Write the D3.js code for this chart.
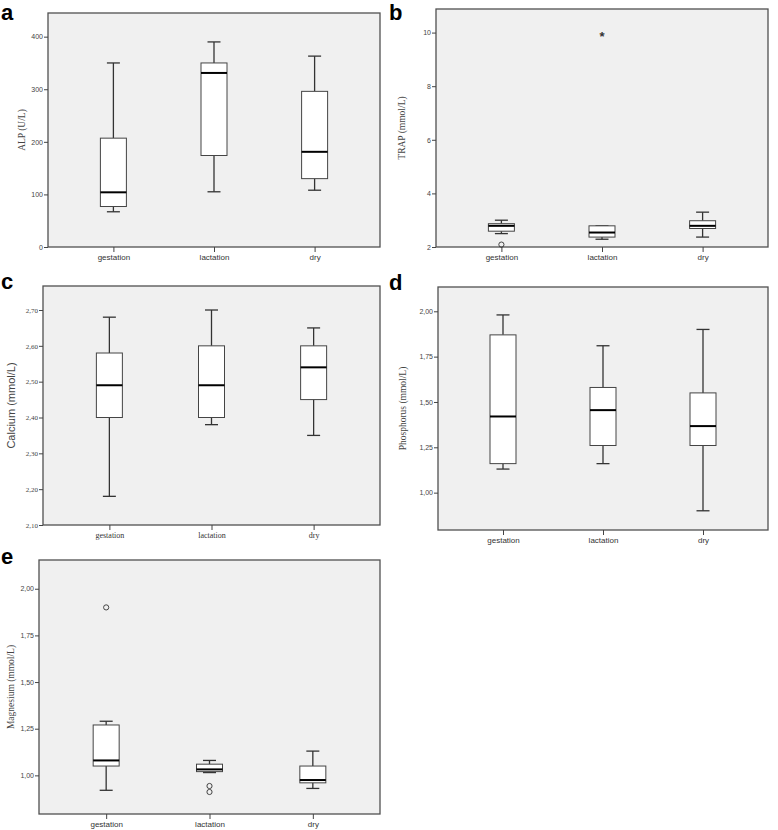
<!DOCTYPE html>
<html>
<head>
<meta charset="utf-8">
<script src="https://cdn.jsdelivr.net/npm/d3@7"></script>
<style>
  body { margin: 0; background: white; }
  svg { display: block; }
</style>
</head>
<body>
<svg id="chart" width="778" height="830"></svg>
<script>
// groups on every x axis
let groups = ["gestation", "lactation", "dry"]

// box stats per group: [min, q1, median, q3, max]
let alpStats = [[67, 77, 104, 207, 350], [105, 174, 331, 350, 390], [108, 130, 181, 296, 363]]
let trapStats = [[2.50, 2.59, 2.79, 2.87, 3.00], [2.29, 2.37, 2.54, 2.79, 2.79], [2.37, 2.69, 2.79, 2.98, 3.30]]
let calciumStats = [[2.18, 2.40, 2.49, 2.58, 2.68], [2.38, 2.40, 2.49, 2.60, 2.70], [2.35, 2.45, 2.54, 2.60, 2.65]]
let phosphorusStats = [[1.13, 1.16, 1.42, 1.87, 1.98], [1.16, 1.26, 1.455, 1.58, 1.81], [0.90, 1.26, 1.367, 1.55, 1.90]]
let magnesiumStats = [[0.92, 1.05, 1.08, 1.27, 1.29], [1.015, 1.02, 1.032, 1.06, 1.08], [0.93, 0.96, 0.975, 1.05, 1.13]]

// outliers: [group, value]
let trapCircles = [["gestation", 2.09]]
let trapStars = [["lactation", 10.0]]
let magnesiumCircles = [["gestation", 1.90], ["lactation", 0.943], ["lactation", 0.911]]

// y ticks
let alpTicks = [0, 100, 200, 300, 400]
let trapTicks = [2, 4, 6, 8, 10]
let calciumTicks = [2.1, 2.2, 2.3, 2.4, 2.5, 2.6, 2.7]
let mgpTicks = [1.0, 1.25, 1.5, 1.75, 2.0]

let svg = d3.select("#chart")

let comma = d => d3.format(".2f")(d).replace(".", ",")

let panels = [
  {letter: "a", lx: 1, ly: 20, x0: 48, x1: 380, y0: 13, y1: 247, domain: [0, 445], ticks: alpTicks, fmt: d3.format("d"),
   stats: alpStats, circles: [], stars: [], label: "ALP (U/L)", labelX: 23, serif: true},
  {letter: "b", lx: 389, ly: 20, x0: 436, x1: 768, y0: 9, y1: 247, domain: [2, 10.88], ticks: trapTicks, fmt: d3.format("d"),
   stats: trapStats, circles: trapCircles, stars: trapStars, label: "TRAP (mmol/L)", labelX: 403, serif: true},
  {letter: "c", lx: 1, ly: 289, x0: 43, x1: 380, y0: 286, y1: 525, domain: [2.10, 2.767], ticks: calciumTicks, fmt: comma,
   stats: calciumStats, circles: [], stars: [], label: "Calcium (mmol/L)", labelX: 12, serif: false},
  {letter: "d", lx: 389, ly: 290, x0: 438, x1: 768, y0: 287, y1: 530, domain: [0.794, 2.134], ticks: mgpTicks, fmt: comma,
   stats: phosphorusStats, circles: [], stars: [], label: "Phosphorus (mmol/L)", labelX: 404, serif: true},
  {letter: "e", lx: 1, ly: 564, x0: 39, x1: 380, y0: 560, y1: 814, domain: [0.793, 2.154], ticks: mgpTicks, fmt: comma,
   stats: magnesiumStats, circles: magnesiumCircles, stars: [], label: "Magnesium (mmol/L)", labelX: 12, serif: true}
]

let boxW = 26
let capW = 13

panels.forEach(function(p){
  let g = svg.append("g")

  let x = d3.scalePoint().domain(groups).range([p.x0, p.x1]).padding(0.65)
  let y = d3.scaleLinear().domain(p.domain).range([p.y1, p.y0])

  // panel letter
  svg.append("text")
    .attr("x", p.lx)
    .attr("y", p.ly)
    .attr("font-family", "Liberation Sans, Arial, sans-serif")
    .attr("font-weight", "bold")
    .attr("font-size", "22px")
    .text(p.letter)

  // plot background + frame
  g.append("rect")
    .attr("x", p.x0)
    .attr("y", p.y0)
    .attr("width", p.x1 - p.x0)
    .attr("height", p.y1 - p.y0)
    .attr("fill", "#f0f0f0")
    .attr("stroke", "#505050")
    .attr("stroke-width", 1.3)

  // y axis
  let yAxis = g.append("g")
    .attr("transform", "translate(" + p.x0 + ",0)")
    .call(d3.axisLeft(y).tickValues(p.ticks).tickFormat(p.fmt).tickSize(4).tickPadding(1))
  yAxis.select(".domain").remove()
  yAxis.selectAll("line").attr("stroke", "#444")
  yAxis.selectAll("text")
    .attr("font-family", p.serif ? "Liberation Sans, Arial, sans-serif" : "Liberation Serif, Times New Roman, serif")
    .attr("font-size", "7px")
    .attr("fill", "#444")

  // x axis
  let xAxis = g.append("g")
    .attr("transform", "translate(0," + p.y1 + ")")
    .call(d3.axisBottom(x).tickSize(5).tickPadding(2))
  xAxis.select(".domain").remove()
  xAxis.selectAll("line").attr("stroke", "#444")
  xAxis.selectAll("text")
    .attr("font-family", p.serif ? "Liberation Sans, Arial, sans-serif" : "Liberation Serif, Times New Roman, serif")
    .attr("font-size", "8px")
    .attr("fill", "#333")

  // y label
  g.append("text")
    .attr("transform", "translate(" + p.labelX + "," + ((p.y0 + p.y1) / 2) + ") rotate(-90)")
    .attr("text-anchor", "middle")
    .attr("dominant-baseline", "middle")
    .attr("font-family", p.serif ? "Liberation Serif, Times New Roman, serif" : "Liberation Sans, Arial, sans-serif")
    .attr("font-size", p.serif ? "9.5px" : "11px")
    .attr("fill", "#444")
    .text(p.label)

  // boxes
  let box = g.selectAll(".box")
    .data(p.stats)
    .enter().append("g")
    .attr("class", "box")
    .attr("transform", (d, i) => "translate(" + x(groups[i]) + ",0)")

  box.append("line")
    .attr("x1", 0).attr("x2", 0)
    .attr("y1", d => y(d[4])).attr("y2", d => y(d[3]))
    .attr("stroke", "#333").attr("stroke-width", 1.3)
  box.append("line")
    .attr("x1", 0).attr("x2", 0)
    .attr("y1", d => y(d[1])).attr("y2", d => y(d[0]))
    .attr("stroke", "#333").attr("stroke-width", 1.3)
  box.append("line")
    .attr("x1", -capW / 2).attr("x2", capW / 2)
    .attr("y1", d => y(d[4])).attr("y2", d => y(d[4]))
    .attr("stroke", "#333").attr("stroke-width", 1.3)
  box.append("line")
    .attr("x1", -capW / 2).attr("x2", capW / 2)
    .attr("y1", d => y(d[0])).attr("y2", d => y(d[0]))
    .attr("stroke", "#333").attr("stroke-width", 1.3)
  box.append("rect")
    .attr("x", -boxW / 2)
    .attr("width", boxW)
    .attr("y", d => y(d[3]))
    .attr("height", d => y(d[1]) - y(d[3]))
    .attr("fill", "white")
    .attr("stroke", "#444")
    .attr("stroke-width", 1)
  box.append("line")
    .attr("x1", -boxW / 2).attr("x2", boxW / 2)
    .attr("y1", d => y(d[2])).attr("y2", d => y(d[2]))
    .attr("stroke", "black").attr("stroke-width", 2)

  // outliers
  g.selectAll(".circ")
    .data(p.circles)
    .enter().append("circle")
    .attr("cx", d => x(d[0]))
    .attr("cy", d => y(d[1]))
    .attr("r", 2.6)
    .attr("fill", "none")
    .attr("stroke", "#333")
    .attr("stroke-width", 0.9)

  g.selectAll(".star")
    .data(p.stars)
    .enter().append("text")
    .attr("x", d => x(d[0]))
    .attr("y", d => y(d[1]) + 8)
    .attr("text-anchor", "middle")
    .attr("font-family", "Liberation Sans, Arial, sans-serif")
    .attr("font-weight", "bold")
    .attr("font-size", "13px")
    .attr("fill", "#333")
    .text("*")
})
</script>
</body>
</html>
